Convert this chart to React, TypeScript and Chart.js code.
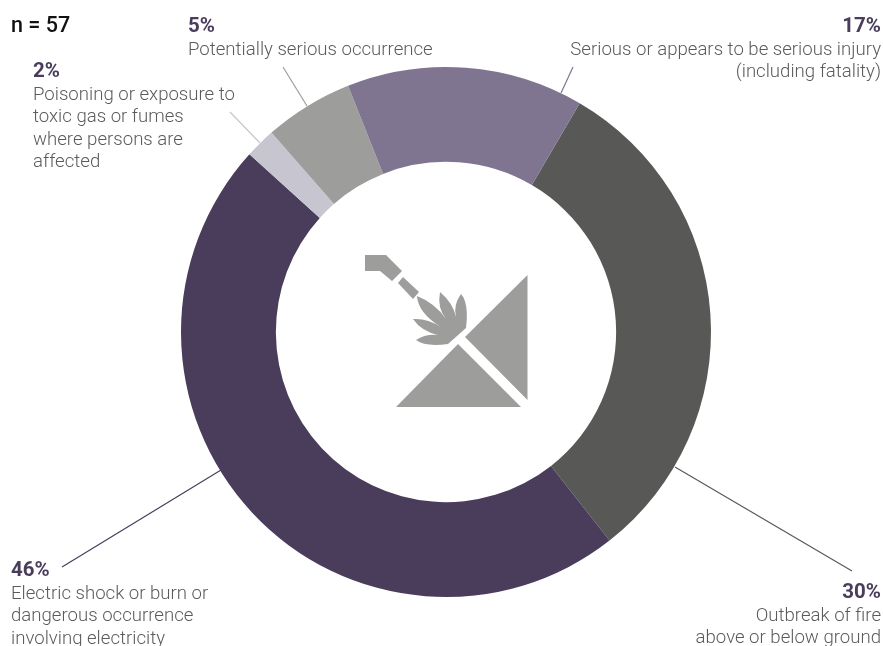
import React, { useEffect, useRef } from "react";
import { Chart, registerables } from "chart.js";

Chart.register(...registerables);

const categories = [
  "Outbreak of fire above or below ground",
  "Electric shock or burn or dangerous occurrence involving electricity",
  "Poisoning or exposure to toxic gas or fumes where persons are affected",
  "Potentially serious occurrence",
  "Serious or appears to be serious injury (including fatality)",
];
const sliceShares = [31, 47.28, 1.86, 5.42, 14.44];
const sliceColors = ["#585857", "#4a3d5c", "#c6c5d0", "#9d9d9c", "#807591"];

const FONT = "Roboto, sans-serif";
const TEXT = "#5c5b5b";
const PCT = "#4a3d5c";

type Label = { x: number; y: number; align: CanvasTextAlign; pct: string; lines: string[] };
const labels: Label[] = [
  { x: 33, y: 77, align: "left", pct: "2%", lines: ["Poisoning or exposure to", "toxic gas or fumes", "where persons are", "affected"] },
  { x: 188, y: 32, align: "left", pct: "5%", lines: ["Potentially serious occurrence"] },
  { x: 881, y: 32, align: "right", pct: "17%", lines: ["Serious or appears to be serious injury", "(including fatality)"] },
  { x: 881, y: 598, align: "right", pct: "30%", lines: ["Outbreak of fire", "above or below ground"] },
  { x: 11, y: 576, align: "left", pct: "46%", lines: ["Electric shock or burn or", "dangerous occurrence", "involving electricity"] },
];

const leaders = [
  { from: [573, 67], to: [561, 93], color: "#807591" },
  { from: [283, 67], to: [307, 106], color: "#9d9d9c" },
  { from: [230, 112], to: [260, 143], color: "#c6c5d0" },
  { from: [62, 567], to: [221, 470], color: "#4a3d5c" },
  { from: [852, 571], to: [675, 467], color: "#585857" },
];

function poly(ctx: CanvasRenderingContext2D, pts: number[][]) {
  ctx.beginPath();
  pts.forEach(([x, y], i) => (i ? ctx.lineTo(x, y) : ctx.moveTo(x, y)));
  ctx.closePath();
  ctx.fill();
}

const flameCurves = [
  [469, 303, 461, 294],
  [453, 305, 456, 317],
  [453, 303, 440, 292],
  [437, 308, 446, 319],
  [435, 303, 417, 296],
  [418, 313, 441, 327],
  [427, 318, 413, 319],
  [421, 331, 438, 335],
  [425, 334, 416, 340],
  [425, 347, 448, 344],
];

const decoration = {
  id: "decoration",
  afterDraw(chart: Chart) {
    const ctx = chart.ctx;
    ctx.save();

    leaders.forEach((l) => {
      ctx.strokeStyle = l.color;
      ctx.lineWidth = 1.2;
      ctx.beginPath();
      ctx.moveTo(l.from[0], l.from[1]);
      ctx.lineTo(l.to[0], l.to[1]);
      ctx.stroke();
    });

    ctx.textBaseline = "alphabetic";
    ctx.fillStyle = "#111111";
    ctx.textAlign = "left";
    ctx.font = `500 21.5px ${FONT}`;
    ctx.fillText("n = 57", 11, 32);

    labels.forEach((l) => {
      ctx.textAlign = l.align;
      ctx.fillStyle = PCT;
      ctx.font = `700 20.5px ${FONT}`;
      ctx.fillText(l.pct, l.x, l.y);
      ctx.fillStyle = TEXT;
      ctx.font = `300 18.6px ${FONT}`;
      l.lines.forEach((t, i) => ctx.fillText(t, l.x, l.y + 22.5 + i * 22.6));
    });

    ctx.fillStyle = "#9d9d9c";
    poly(ctx, [[365, 255], [386, 255], [402, 271], [392, 281], [380, 271], [365, 271]]);
    poly(ctx, [[403, 277], [419, 292], [413, 299], [398, 283]]);
    poly(ctx, [[527.5, 275], [527.5, 400], [465, 337]]);
    poly(ctx, [[396, 407], [458, 344], [521, 407]]);
    ctx.beginPath();
    ctx.moveTo(466, 328);
    flameCurves.forEach(([cx, cy, x, y]) => ctx.quadraticCurveTo(cx, cy, x, y));
    ctx.closePath();
    ctx.fill();
    ctx.restore();
  },
};

export default function App() {
  const ref = useRef<HTMLCanvasElement>(null);
  useEffect(() => {
    document.body.style.margin = "0";
    const chart = new Chart(ref.current!, {
      type: "doughnut",
      data: {
        labels: categories,
        datasets: [{ data: sliceShares, backgroundColor: sliceColors, borderWidth: 0 }],
      },
      options: {
        animation: false,
        responsive: false,
        devicePixelRatio: 1,
        rotation: 30.3,
        cutout: "64.2%",
        layout: { padding: { left: 181, right: 172, top: 67, bottom: 49 } },
        plugins: { legend: { display: false }, tooltip: { enabled: false } },
      },
      plugins: [decoration],
    });
    return () => chart.destroy();
  }, []);
  return <canvas ref={ref} width={883} height={646} style={{ display: "block" }} />;
}
